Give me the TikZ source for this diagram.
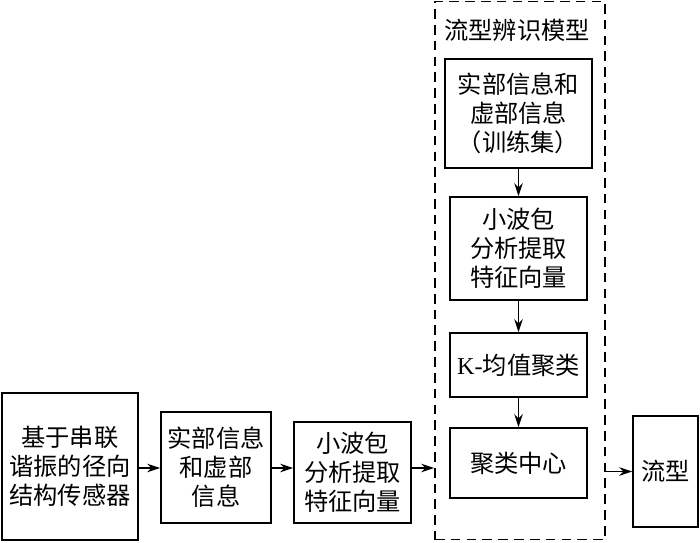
\documentclass[tikz,border=0pt]{standalone}
\usepackage{fontspec}
\setmainfont{Liberation Serif}
\newfontfamily\cjk{Noto Sans CJK SC}
\usetikzlibrary{positioning,arrows.meta}

\begin{document}
\begin{tikzpicture}[
  block/.style={draw,line width=1pt,align=center,inner sep=2pt,
                font=\cjk\fontsize{13.8pt}{16.5pt}\selectfont},
  frame/.style={draw,line width=1pt,dash pattern=on 5.5pt off 3.5pt},
  flow/.style={-{Stealth[length=2.6mm,width=1.7mm]},line width=1pt},
]
\useasboundingbox (0,0) rectangle (14,-10.86);

% Dashed model frame
\node[frame,minimum width=3.4cm,minimum height=10.76cm] (model) at (10.4,-5.41) {};
\node[block,draw=none] (title) at (10.34,-0.6) {流型辨识模型};

% Left chain
\node[block,minimum width=2.72cm,minimum height=2.94cm] (sensor) at (1.4,-9.33)
  {基于串联\\谐振的径向\\结构传感器};
\node[block,minimum width=2.2cm,minimum height=2.22cm] (reim) at (4.32,-9.35)
  {实部信息\\和虚部\\信息};
\node[block,minimum width=2.34cm,minimum height=2.02cm] (wpt) at (7.05,-9.45)
  {小波包\\分析提取\\特征向量};

% Inside the model
\node[block,minimum width=2.94cm,minimum height=2.18cm] (train) at (10.37,-2.27)
  {实部信息和\\虚部信息\\（训练集）};
\node[block,minimum width=2.74cm,minimum height=2.06cm] (wptm) at (10.37,-4.97)
  {小波包\\分析提取\\特征向量};
\node[block,minimum width=2.74cm,minimum height=1.28cm] (kmeans) at (10.37,-7.3)
  {{\rmfamily K-}均值聚类};
\node[block,minimum width=2.74cm,minimum height=1.4cm] (centre) at (10.37,-9.26)
  {聚类中心};

% Output
\node[block,minimum width=1.3cm,minimum height=2.22cm] (regime) at (13.31,-9.43)
  {流型};

% Arrows
\draw[flow] (sensor.east |- 0,-9.36) -- (reim.west |- 0,-9.36);
\draw[flow] (reim.east |- 0,-9.36) -- (wpt.west |- 0,-9.36);
\draw[flow] (wpt.east |- 0,-9.36) -- (model.west |- 0,-9.36);
\draw[flow] (train) -- (wptm);
\draw[flow] (wptm) -- (kmeans);
\draw[flow] (kmeans) -- (centre);
\draw[flow] (model.east |- regime) -- (regime);

\end{tikzpicture}
\end{document}
